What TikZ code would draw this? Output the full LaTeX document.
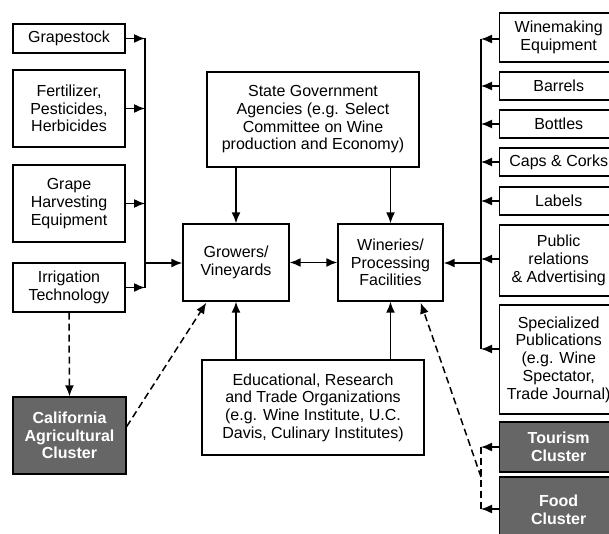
\documentclass[tikz,border=0pt]{standalone}
\usepackage{fontspec}
\setmainfont{Liberation Sans}
\usetikzlibrary{arrows.meta,calc}
\begin{document}
\begin{tikzpicture}[x=1pt,y=-1pt,
  box/.style={draw, line width=1.4pt, align=center, inner sep=1pt,
    font=\fontsize{16}{17.7}\selectfont, text=black},
  rbox/.style={box, anchor=west, minimum width=118pt},
  dark/.style={fill=black!60, text=white, font=\fontsize{16}{17.7}\selectfont\bfseries},
  arr/.style={line width=1.5pt, -{Latex[length=11pt,width=9pt]}},
  darr/.style={arr, dash pattern=on 7pt off 4pt},
  dline/.style={line width=1.5pt, dash pattern=on 7pt off 4pt},
  bus/.style={line width=1.5pt}]
\useasboundingbox (0,0) rectangle (609,534);
\clip (0,0) rectangle (609,534);
% left column
\node[box, minimum width=112pt, minimum height=29pt] (grape) at (69,38.5) {Grapestock};
\node[box, minimum width=112pt, minimum height=77pt] (fert) at (69,108.5) {Fertilizer,\\Pesticides,\\Herbicides};
\node[box, minimum width=112pt, minimum height=77pt] (harv) at (69,203.5) {Grape\\Harvesting\\Equipment};
\node[box, minimum width=112pt, minimum height=49pt] (irrig) at (69,287.5) {Irrigation\\Technology};
\node[box, dark, minimum width=113pt, minimum height=77pt] (calif) at (69.5,435.5) {California\\Agricultural\\Cluster};
% centre
\node[box, minimum width=212pt, minimum height=95pt] (state) at (313,119.5) {State Government\\Agencies (e.g. Select\\Committee on Wine\\production and Economy)};
\node[box, minimum width=106pt, minimum height=77pt] (grow) at (236,262.5) {Growers/\\Vineyards};
\node[box, minimum width=105pt, minimum height=77pt] (winer) at (390.5,262.5) {Wineries/\\Processing\\Facilities};
\node[box, minimum width=222pt, minimum height=95pt] (edu) at (313,407.5) {Educational, Research\\and Trade Organizations\\(e.g. Wine Institute, U.C.\\Davis, Culinary Institutes)};
% right column
\node[rbox, minimum height=49pt] (wme) at (499,37.5) {Winemaking\\Equipment};
\node[rbox, minimum height=28pt] (barr) at (499,86) {Barrels};
\node[rbox, minimum height=28pt] (bott) at (499,124) {Bottles};
\node[rbox, minimum height=28pt] (caps) at (499,162) {Caps \& Corks};
\node[rbox, minimum height=28pt] (lab) at (499,201) {Labels};
\node[rbox, minimum height=71pt] (pr) at (499,260.5) {Public\\relations\\\& Advertising};
\node[rbox, minimum height=109pt] (spec) at (499,359.5) {Specialized\\Publications\\(e.g. Wine\\Spectator,\\Trade Journal)};
\node[rbox, dark, minimum height=50pt] (tour) at (499,447) {Tourism\\Cluster};
\node[rbox, dark, minimum height=66pt] (food) at (499,510) {Food\\Cluster};
% left bus
\coordinate (lb1) at (145,38.5);
\coordinate (lb2) at (145,108.5);
\coordinate (lb3) at (145,203.5);
\coordinate (lb4) at (145,287.5);
\coordinate (lbg) at (145,263);
\draw[bus] (lb1) -- (lb4);
\draw[arr] (grape.east) -- (lb1);
\draw[arr] (fert.east) -- (lb2);
\draw[arr] (harv.east) -- (lb3);
\draw[arr] (irrig.east) -- (lb4);
\draw[arr] (lbg) -- (grow.west |- lbg);
% right bus
\coordinate (rb1) at (481,39);
\coordinate (rb2) at (481,86);
\coordinate (rb3) at (481,124);
\coordinate (rb4) at (481,162);
\coordinate (rb5) at (481,201);
\coordinate (rb6) at (481,259);
\coordinate (rb7) at (481,349);
\coordinate (rbw) at (481,263);
\draw[bus] (rb1) -- (rb7);
\draw[arr] (wme.west |- rb1) -- (rb1);
\draw[arr] (barr.west) -- (rb2);
\draw[arr] (bott.west) -- (rb3);
\draw[arr] (caps.west) -- (rb4);
\draw[arr] (lab.west) -- (rb5);
\draw[arr] (pr.west |- rb6) -- (rb6);
\draw[arr] (spec.west |- rb7) -- (rb7);
\draw[arr] (rbw) -- (winer.east |- rbw);
% centre arrows
\draw[line width=1.5pt, {Latex[length=11pt,width=9pt]}-{Latex[length=11pt,width=9pt]}] (grow.east) -- (winer.west);
\draw[arr] (state.south -| grow) -- (grow.north);
\draw[arr] (state.south -| winer) -- (winer.north);
\draw[arr] (edu.north -| grow) -- (grow.south);
\draw[arr] (edu.north -| winer) -- (winer.south);
% dashed
\draw[darr] (irrig.south) -- (calif.north);
\coordinate (gtip) at ($(grow.south west)+(24,1)$);
\draw[darr] ($(calif.east)+(0,-9)$) -- (gtip);
\coordinate (rd1) at (481,447);
\coordinate (rd2) at (481,509);
\coordinate (rdm) at (481,477);
\coordinate (wtip) at ($(winer.south east)+(-23,1)$);
\draw[dline] (rd1) -- (rd2);
\draw[darr] (tour.west) -- (rd1);
\draw[darr] (food.west |- rd2) -- (rd2);
\draw[darr] (rdm) -- (wtip);
\end{tikzpicture}
\end{document}
